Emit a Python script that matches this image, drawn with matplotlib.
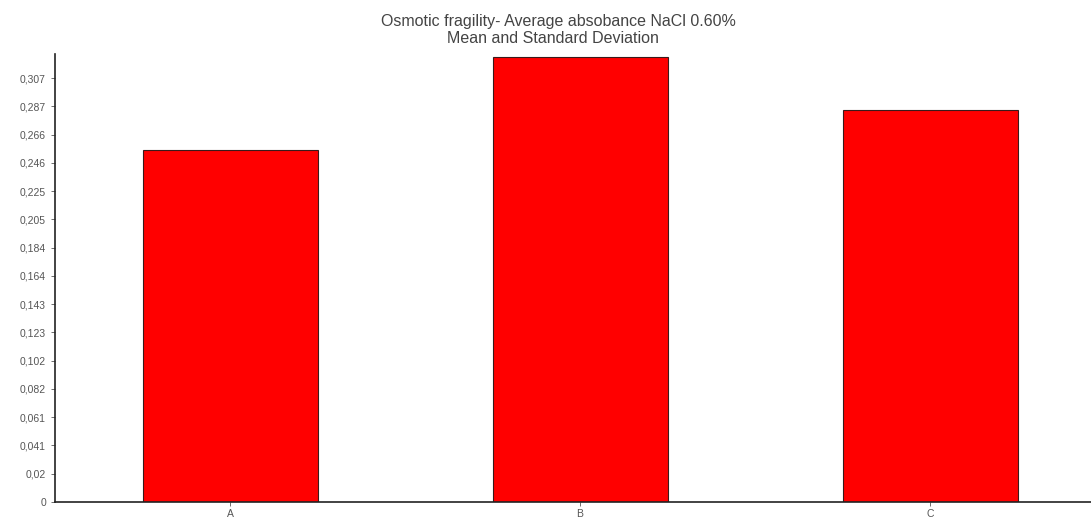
import numpy as np
import matplotlib
matplotlib.use('Agg')
import matplotlib.pyplot as plt

plt.rcParams['font.family'] = ['Liberation Sans', 'DejaVu Sans']

categories = ['A', 'B', 'C']
means = [0.2553, 0.3223, 0.2837]
ytick_values = list(np.linspace(0, 0.307, 16))
ytick_labels = ['0', '0,02', '0,041', '0,061', '0,082', '0,102', '0,123', '0,143',
                '0,164', '0,184', '0,205', '0,225', '0,246', '0,266', '0,287', '0,307']
title_lines = ['Osmotic fragility- Average absobance NaCl 0.60%', 'Mean and Standard Deviation']

fig = plt.figure(figsize=(10.91, 5.26), dpi=100)
ax = fig.add_axes([55 / 1091, 24 / 526, 1050 / 1091, 448 / 526])

x = np.arange(len(categories))
ax.bar(x, means, width=0.5, color='#ff0000', edgecolor='#3a1a1a', linewidth=0.8)

ax.set_xlim(-0.5, 2.5)
ax.set_ylim(0, 0.3245)
ax.set_xticks(x)
ax.set_xticklabels(categories)
ax.set_yticks(ytick_values)
ax.set_yticklabels(ytick_labels)

ax.tick_params(axis='both', labelsize=7.5, colors='#555555', length=3, width=0.6)
ax.tick_params(axis='x', pad=2)
for s in ['top', 'right']:
    ax.spines[s].set_visible(False)
for s in ['left', 'bottom']:
    ax.spines[s].set_color('#222222')
    ax.spines[s].set_linewidth(1.2)

# two title lines placed separately to control the line spacing
fig.text(0.512, 1 - 26 / 526, title_lines[0], ha='center', va='baseline',
         fontsize=11.5, color='#444444')
fig.text(0.507, 1 - 43 / 526, title_lines[1], ha='center', va='baseline',
         fontsize=11.5, color='#444444')

fig.savefig('out.png', dpi=100)
